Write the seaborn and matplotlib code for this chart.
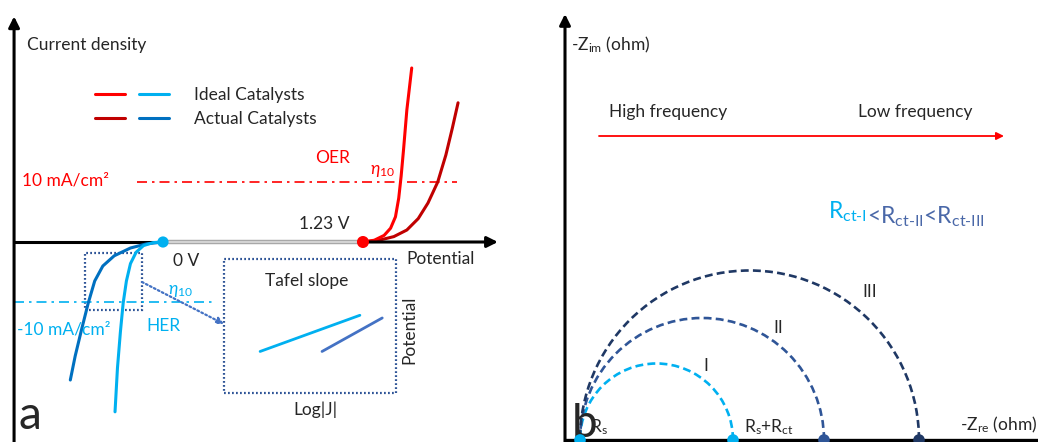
import matplotlib
matplotlib.use("Agg")
import matplotlib.pyplot as plt
import seaborn as sns
from matplotlib.patches import Arc, Rectangle
from matplotlib.lines import Line2D
from matplotlib.legend_handler import HandlerTuple

# ---- panel a: polarization curves (potential in V, current density in mA/cm2)
her_ideal_v = [0.0, -0.06, -0.12, -0.165, -0.20, -0.225, -0.245, -0.262, -0.28, -0.295]
her_ideal_j = [0.0, -0.1, -0.6, -1.7, -3.6, -6.5, -10.2, -15.0, -21.0, -28.3]
her_actual_v = [0.0, -0.10, -0.20, -0.30, -0.37, -0.42, -0.46, -0.50, -0.54, -0.57]
her_actual_j = [0.0, -0.3, -1.0, -2.3, -4.0, -6.5, -10.2, -14.5, -19.0, -23.0]
oer_ideal_v = [1.23, 1.30, 1.36, 1.40, 1.43, 1.45, 1.465, 1.48, 1.50, 1.53]
oer_ideal_j = [0.0, 0.3, 1.1, 2.3, 4.2, 7.3, 11.0, 15.5, 22.0, 29.0]
oer_actual_v = [1.23, 1.33, 1.42, 1.50, 1.57, 1.63, 1.69, 1.74, 1.78, 1.815]
oer_actual_j = [0.0, 0.3, 0.9, 2.0, 3.9, 6.5, 10.0, 14.5, 19.0, 23.2]
eq_potentials = [0.0, 1.23]          # HER / OER equilibrium potentials
j_ref = [10, -10]                    # reference current densities

# Tafel inset (arbitrary units)
tafel_ideal_logj = [0.21, 0.79]
tafel_ideal_pot = [0.31, 0.58]
tafel_actual_logj = [0.57, 0.92]
tafel_actual_pot = [0.31, 0.56]

# ---- panel b: Nyquist plot (ohm)
r_s = 1.5
r_ct = [15.3, 24.4, 33.9]
arc_labels = ["I", "II", "III"]

RED, DRED = "#ff0000", "#c00000"
LBLUE, BLUE = "#00b0f0", "#0070c0"
NAVY1, NAVY2, NAVY3 = "#4472c4", "#2f5597", "#1f3864"
arc_colors = [LBLUE, NAVY2, NAVY3]

sns.set_theme(style="white")
plt.rcParams["font.family"] = ["Lato", "DejaVu Sans"]
plt.rcParams["mathtext.fontset"] = "custom"
plt.rcParams["mathtext.rm"] = "Lato"
plt.rcParams["mathtext.it"] = "Lato:italic"

fig = plt.figure(figsize=(10.38, 4.42), dpi=100)
axa = fig.add_axes([0, 0, 520 / 1038, 1])
axb = fig.add_axes([520 / 1038, 0, 518 / 1038, 1])
for ax in (axa, axb):
    ax.set_axis_off()
axa.set_xlim(-1.0025, 2.196)
axa.set_ylim(-33.33, 40.33)
axb.set_xlim(-4.5, 47.3)
axb.set_ylim(-0.2, 44.0)

fs = 12.5
dotted = (0, (0.8, 1.0))
arrow_kw = dict(arrowstyle="-|>", color="black", lw=2.2, mutation_scale=16, shrinkA=0, shrinkB=0)

# ---------------- panel a ----------------
axa.annotate("", xy=(-0.916, 37.6), xytext=(-0.916, -34), arrowprops=arrow_kw)
axa.plot([-0.916, eq_potentials[0]], [0, 0], color="black", lw=2.2, solid_capstyle="butt")
axa.plot(eq_potentials, [0, 0], color="#a8a8a8", lw=3.2, solid_capstyle="butt")
axa.plot(eq_potentials, [0, 0], color="#dcdcdc", lw=1.2, solid_capstyle="butt")
axa.annotate("", xy=(2.06, 0), xytext=(eq_potentials[1], 0), arrowprops=arrow_kw)

axa.plot([-0.16, 1.81], [j_ref[0]] * 2, color=RED, lw=1.2, ls=(0, (6, 3, 1.5, 3)))
axa.plot([-0.916, 0.31], [j_ref[1]] * 2, color=LBLUE, lw=1.2, ls=(0, (6, 3, 1.5, 3)))

for v, j, c in [(her_actual_v, her_actual_j, BLUE), (her_ideal_v, her_ideal_j, LBLUE),
                (oer_actual_v, oer_actual_j, DRED), (oer_ideal_v, oer_ideal_j, RED)]:
    sns.lineplot(x=v, y=j, sort=False, estimator=None, color=c, lw=2.2, ax=axa)

sns.scatterplot(x=[eq_potentials[0]], y=[0], color=LBLUE, s=65, edgecolor="none", zorder=5, ax=axa)
sns.scatterplot(x=[eq_potentials[1]], y=[0], color=RED, s=75, edgecolor="none", zorder=5, ax=axa)

axa.add_patch(Rectangle((-0.48, -11.3), 0.351, 9.47, fill=False, ec=NAVY2, lw=1.6, ls=dotted))
axa.annotate("", xy=(0.375, -13.67), xytext=(-0.129, -6.67),
             arrowprops=dict(arrowstyle="-|>", color=NAVY1, lw=1.6, ls=(0, (0.8, 1.2)),
                             mutation_scale=10, shrinkA=0, shrinkB=0))

axa.text(-0.836, 32.8, "Current density", fontsize=fs, va="center", ha="left")
axa.text(1.045, 14.0, "OER", fontsize=fs, color=RED, ha="center", va="center")
axa.text(1.353, 11.9, r"$\eta_{10}$", fontsize=fs, color=RED, ha="center", va="center")
axa.text(-0.867, 10.2, "10 mA/cm²", fontsize=fs, color=RED, ha="left", va="center")
axa.text(0.99, 3.0, "1.23 V", fontsize=fs, ha="center", va="center")
axa.text(0.0615, -3.17, "0 V", fontsize=fs, ha="left", va="center")
axa.text(1.50, -2.83, "Potential", fontsize=fs, ha="left", va="center")
axa.text(0.11, -8.2, r"$\eta_{10}$", fontsize=fs, color=LBLUE, ha="center", va="center")
axa.text(-0.898, -14.5, "-10 mA/cm²", fontsize=fs, color=LBLUE, ha="left", va="center")
axa.text(-0.105, -14.0, "HER", fontsize=fs, color=LBLUE, ha="left", va="center")
axa.text(-0.89, -29.0, "a", fontsize=33, ha="left", va="center")

handles = [(Line2D([], [], color=RED, lw=2.2), Line2D([], [], color=LBLUE, lw=2.2)),
           (Line2D([], [], color=DRED, lw=2.2), Line2D([], [], color=BLUE, lw=2.2))]
axa.legend(handles, ["Ideal Catalysts", "Actual Catalysts"],
           handler_map={tuple: HandlerTuple(ndivide=None, pad=0.8)},
           handlelength=4.25, handletextpad=1.44, labelspacing=0.5, frameon=False,
           loc="center left", bbox_to_anchor=(0.183, 0.758), borderpad=0,
           borderaxespad=0, fontsize=fs)

# Tafel inset
ins = fig.add_axes([224 / 1038, 1 - 393 / 442, 172 / 1038, 134 / 442])
ins.set_facecolor("none")
ins.set_xlim(0, 1)
ins.set_ylim(0, 1)
ins.set_xticks([])
ins.set_yticks([])
for sp in ins.spines.values():
    sp.set_visible(False)
ins.add_patch(Rectangle((0, 0), 1, 1, transform=ins.transAxes, fill=False, ec=NAVY2,
                        lw=1.6, ls=dotted, clip_on=False))
sns.lineplot(x=tafel_ideal_logj, y=tafel_ideal_pot, color=LBLUE, lw=2.0, ax=ins)
sns.lineplot(x=tafel_actual_logj, y=tafel_actual_pot, color=NAVY1, lw=2.0, ax=ins)
ins.set_xlabel("")
ins.set_ylabel("")
ins.text(0.48, 0.836, "Tafel slope", fontsize=fs, ha="center", va="center", transform=ins.transAxes)
ins.text(0.53, -0.127, "Log|J|", fontsize=fs, ha="center", va="center", transform=ins.transAxes)
ins.text(1.08, 0.47, "Potential", fontsize=fs, rotation=90, ha="center", va="center",
         transform=ins.transAxes)

# ---------------- panel b ----------------
axb.annotate("", xy=(0, 42.6), xytext=(0, -0.4), arrowprops=arrow_kw)
axb.plot([0, 47.3], [0, 0], color="black", lw=2.4, solid_capstyle="butt", clip_on=False)
axb.annotate("", xy=(43.9, 30.4), xytext=(3.4, 30.4),
             arrowprops=dict(arrowstyle="-|>", color=RED, lw=1.3, mutation_scale=11,
                             shrinkA=0, shrinkB=0))

for rct, c, lab in zip(r_ct, arc_colors, arc_labels):
    axb.add_patch(Arc((r_s + rct / 2, 0), rct, rct, theta1=0, theta2=180, color=c,
                      lw=1.9, ls=(0, (3, 1.6))))
sns.scatterplot(x=[r_s] + [r_s + r for r in r_ct], y=[0] * 4, hue=arc_labels + ["end"],
                palette=[LBLUE] + arc_colors, s=70, edgecolor="none", legend=False,
                zorder=5, clip_on=False, ax=axb)

axb.text(14.1, 7.4, "I", fontsize=fs, ha="center", va="center")
axb.text(21.3, 11.2, "II", fontsize=fs, ha="center", va="center")
axb.text(30.5, 14.8, "III", fontsize=fs, ha="center", va="center")
axb.text(0.6, 39.5, r"-Z$_{\mathrm{im}}$ (ohm)", fontsize=fs, ha="left", va="center")
axb.text(4.4, 32.8, "High frequency", fontsize=fs, ha="left", va="center")
axb.text(29.3, 32.8, "Low frequency", fontsize=fs, ha="left", va="center")
axb.text(2.5, 1.3, r"R$_{\mathrm{s}}$", fontsize=fs, ha="left", va="center")
axb.text(17.9, 1.3, r"R$_{\mathrm{s}}$+R$_{\mathrm{ct}}$", fontsize=fs, ha="left", va="center")
axb.text(39.5, 1.5, r"-Z$_{\mathrm{re}}$ (ohm)", fontsize=fs, ha="left", va="center")
axb.text(0.7, 1.6, "b", fontsize=33, ha="left", va="center")

t1 = axb.text(26.3, 22.2, r"R$_{\mathrm{ct\text{-}I}}$", fontsize=16.5, color=LBLUE,
              ha="left", va="baseline")
axb.annotate(r"<R$_{\mathrm{ct\text{-}II}}$<R$_{\mathrm{ct\text{-}III}}$", xy=(1, 0),
             xycoords=t1, fontsize=16.5, color="#4a68a8", ha="left", va="baseline")

fig.savefig("out.png", dpi=100)
